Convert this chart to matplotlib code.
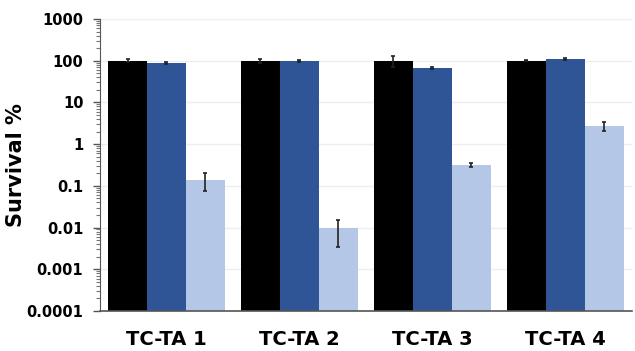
import numpy as np
import matplotlib.pyplot as plt
from matplotlib.ticker import LogLocator, FixedLocator, NullFormatter

# Datos de supervivencia (%) por sistema toxina-antitoxina
grupos = ["TC-TA 1", "TC-TA 2", "TC-TA 3", "TC-TA 4"]
control = [100, 100, 100, 100]
serie_b = [90, 98, 67, 108]
serie_c = [0.14, 0.0095, 0.32, 2.7]
err_control = [8, 10, 28, 4]
err_b = [5, 4, 5, 5]
err_c = [0.065, 0.006, 0.03, 0.6]

ticks_y = [0.0001, 0.001, 0.01, 0.1, 1, 10, 100, 1000]
etiquetas_y = ["0.0001", "0.001", "0.01", "0.1", "1", "10", "100", "1000"]

colores = ["#000000", "#2f5597", "#b4c7e7"]

fig = plt.figure(figsize=(6.35, 3.51), dpi=100)
ax = fig.add_axes([0.1575, 0.114, 0.8375, 0.832])

x = np.arange(len(grupos))
w = 0.293
series = [(control, err_control), (serie_b, err_b), (serie_c, err_c)]
for i, (vals, errs) in enumerate(series):
    ax.bar(x + (i - 1) * w, vals, width=w, color=colores[i], zorder=2,
           yerr=errs, error_kw=dict(ecolor="#222222", elinewidth=1.2,
                                    capsize=1.5, capthick=1.2))

ax.set_yscale("log")
ax.set_ylim(0.0001, 1000)
ax.set_xlim(-0.5, 3.5)
ax.yaxis.set_major_locator(FixedLocator(ticks_y))
ax.set_yticklabels(etiquetas_y, fontsize=10.5, fontweight="bold")
ax.yaxis.set_minor_locator(LogLocator(base=10, subs=np.arange(2, 10), numticks=20))
ax.yaxis.set_minor_formatter(NullFormatter())
ax.tick_params(axis="y", which="major", length=5, width=1, color="#555555", pad=7)
ax.tick_params(axis="y", which="minor", length=3, width=0.8, color="#777777")

ax.set_xticks(x)
ax.set_xticklabels(grupos, fontsize=14, fontweight="bold")
ax.tick_params(axis="x", length=0, pad=14)

ax.grid(axis="y", which="major", color="#eeeeee", linewidth=1, zorder=0)
for lado in ["top", "right"]:
    ax.spines[lado].set_visible(False)
ax.spines["left"].set_color("#555555")
ax.spines["bottom"].set_color("#555555")
ax.spines["bottom"].set_linewidth(1.2)

ax.set_ylabel("Survival %", fontsize=15, fontweight="bold")
ax.yaxis.set_label_coords(-0.139, 0.5)

fig.savefig("out.png", dpi=100)
